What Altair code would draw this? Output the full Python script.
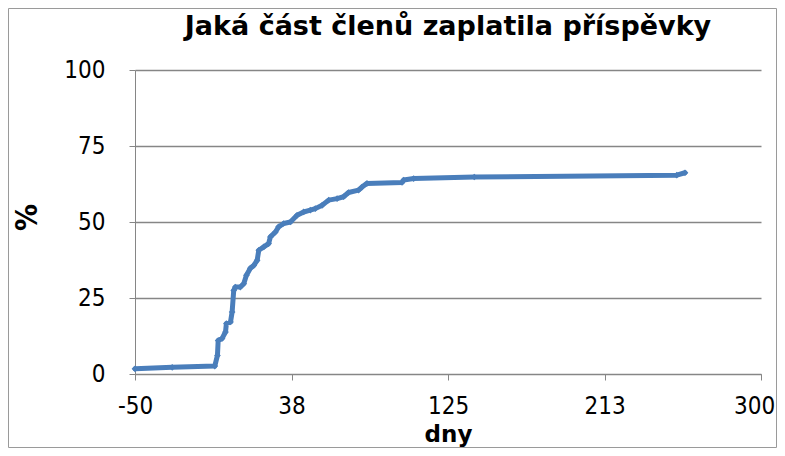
import altair as alt
import pandas as pd

days = [-50, -29.2, -5.4, -3.9, -3.5, -1.3, 0.6, 1.1, 3.4, 4.3, 5.2, 6.1, 8.9, 10.8,
        12.3, 14.5, 16.4, 18.3, 19.2, 22.0, 24.7, 25.7, 28.5, 30.3, 33.1, 36.9,
        40.6, 44.3, 48.0, 50.8, 54.6, 58.3, 63.0, 66.6, 69.4, 75.0, 76.9, 79.7,
        99.3, 100.2, 105.8, 139.7, 252.9, 257.5]
pct = [1.7, 2.2, 2.6, 6.1, 11.0, 11.7, 13.8, 16.6, 17.1, 20.4, 27.5, 28.6, 28.6, 29.7,
       32.5, 34.8, 35.7, 37.4, 40.7, 41.8, 42.9, 45.1, 46.7, 48.4, 49.5, 50.0,
       52.2, 53.3, 53.9, 54.4, 55.5, 57.2, 57.7, 58.3, 59.7, 60.5, 61.5, 62.7,
       63.0, 63.8, 64.3, 64.8, 65.4, 66.2]
x_ticks = [-50, 37.5, 125, 212.5, 300]
y_ticks = [0, 25, 50, 75, 100]
title_text = "Jaká část členů zaplatila příspěvky"

FONT = "DejaVu Sans Condensed"
TFONT = "DejaVu Sans"
BLUE = "#4a7ebb"
GRAY = "#868686"

df = pd.DataFrame({"dny": days, "pct": pct})

line = alt.Chart(df).mark_line(
    color=BLUE, strokeWidth=5, strokeJoin="round", strokeCap="round",
    point=alt.OverlayMarkDef(shape="diamond", size=45, filled=True, color=BLUE, opacity=1),
).encode(
    x=alt.X("dny:Q", scale=alt.Scale(domain=[-50, 300], nice=False, zero=False),
            axis=alt.Axis(values=x_ticks, labelExpr="round(datum.value)", grid=False,
                          title="dny", titleFont=TFONT, titleFontSize=23, titleFontWeight="bold",
                          titleColor="black", titlePadding=5,
                          labelFont=FONT, labelFontSize=24, labelColor="black",
                          labelPadding=14, tickSize=6, tickColor=GRAY, domainColor=GRAY,
                          labelFlush=False,
                          labelOffset={"condition": {"test": "datum.value == 300", "value": -7},
                                       "value": 0})),
    y=alt.Y("pct:Q", scale=alt.Scale(domain=[0, 100], nice=False),
            axis=alt.Axis(values=y_ticks, grid=True, gridColor=GRAY, gridWidth=1.5,
                          title="%", titleFont=FONT, titleFontSize=30, titleFontWeight="bold",
                          titleColor="black", titlePadding=21, titleY=147,
                          labelFont=FONT, labelFontSize=24, labelColor="black",
                          labelPadding=24, tickSize=6, tickColor=GRAY, domainColor=GRAY)),
)

border = alt.Chart(alt.Data(values=[{}])).mark_rect(
    fill=None, stroke="#9a9a9a", strokeWidth=1
).encode(
    x=alt.value(-126.5), x2=alt.value(641.5), y=alt.value(-61.5), y2=alt.value(377.5)
)

title = alt.Chart(alt.Data(values=[{"t": title_text}])).mark_text(
    font=TFONT, fontSize=27, fontWeight="bold", color="black",
    align="center", baseline="alphabetic"
).encode(
    x=alt.value(313), y=alt.value(-35), text="t:N"
)

chart = alt.layer(border, line, title).properties(
    width=626, height=304,
    padding={"left": 127, "top": 62, "right": 16, "bottom": 74},
    autosize=alt.AutoSizeParams(type="none"),
).configure_view(stroke=None)

chart.save("out.html", embed_options={"renderer": "svg", "actions": False})
